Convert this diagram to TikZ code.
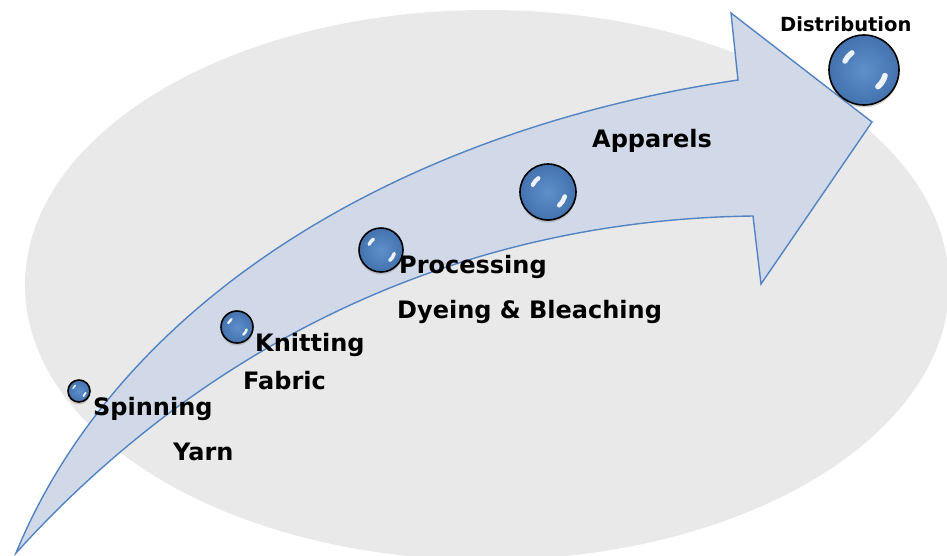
\documentclass[tikz,border=0pt]{standalone}
\usepackage{fontspec}
\setmainfont{DejaVu Sans}
\usetikzlibrary{shadows,calc}
\definecolor{ovalgrey}{HTML}{E9E9E9}
\definecolor{arrowfill}{HTML}{D1D9E8}
\definecolor{arrowline}{HTML}{5283C2}
\definecolor{balllight}{HTML}{5F90CA}
\definecolor{balldark}{HTML}{4372AE}
\tikzset{
  stage/.style={font=\bfseries\fontsize{24}{28}\selectfont, text=black, inner sep=0pt, anchor=base west},
  smallstage/.style={font=\bfseries\fontsize{19.5}{23}\selectfont, text=black, inner sep=0pt, anchor=base west},
  ball/.style={circle, draw=black, line width=1.6pt, inner sep=0pt, minimum size=#1,
    inner color=balllight, outer color=balldark,
    drop shadow={shadow xshift=0pt, shadow yshift=-2.5pt, opacity=0.35}},
  gleam/.style={white, line cap=round, opacity=0.9}
}
% sphere with two white reflections; #1 name, #2 centre, #3 radius
\newcommand\bubble[3]{%
  \node[ball=2*#3] (#1) at #2 {};
  \draw[gleam, line width=0.15*#3] ($(#1.center)+(-155:0.6*#3)$) arc (-155:-125:0.6*#3);
  \draw[gleam, line width=0.16*#3] ($(#1.center)+(15:0.62*#3)$) arc (15:50:0.62*#3);
}
\begin{document}
\begin{tikzpicture}[x=1pt, y=-1pt]
  \useasboundingbox (0,0) rectangle (947,555);
  \clip (0,0) rectangle (947,555);
  % background oval
  \fill[ovalgrey] (487,285) ellipse [x radius=462, y radius=275];
  % curved arrow
  \coordinate (tail) at (16,553);
  \draw[arrowline, fill=arrowfill, line width=1.4pt, line join=miter]
    (tail) .. controls (120,300) and (400,130) .. (738,80)
    -- (731,13) -- (872,122) -- (761,284) -- (753,216)
    .. controls (450,220) and (200,350) .. (tail) -- cycle;
  % stages along the arrow
  \bubble{spin}{(79,391)}{11}
  \bubble{knit}{(237,327)}{16}
  \bubble{proc}{(381,250)}{22}
  \bubble{appar}{(548,192)}{28}
  \bubble{distr}{(864,70)}{35}
  \node[stage] (tspin) at (93,415) {Spinning};
  \node[stage] (tyarn) at (173,460) {Yarn};
  \node[stage] (tknit) at (255,351) {Knitting};
  \node[stage] (tfab) at (243,389) {Fabric};
  \node[stage] (tproc) at (399,273) {Processing};
  \node[stage] (tdye) at (397,318) {Dyeing \& Bleaching};
  \node[stage] (tapp) at (592,147) {Apparels};
  \node[smallstage] (tdist) at (780,31) {Distribution};
\end{tikzpicture}
\end{document}
